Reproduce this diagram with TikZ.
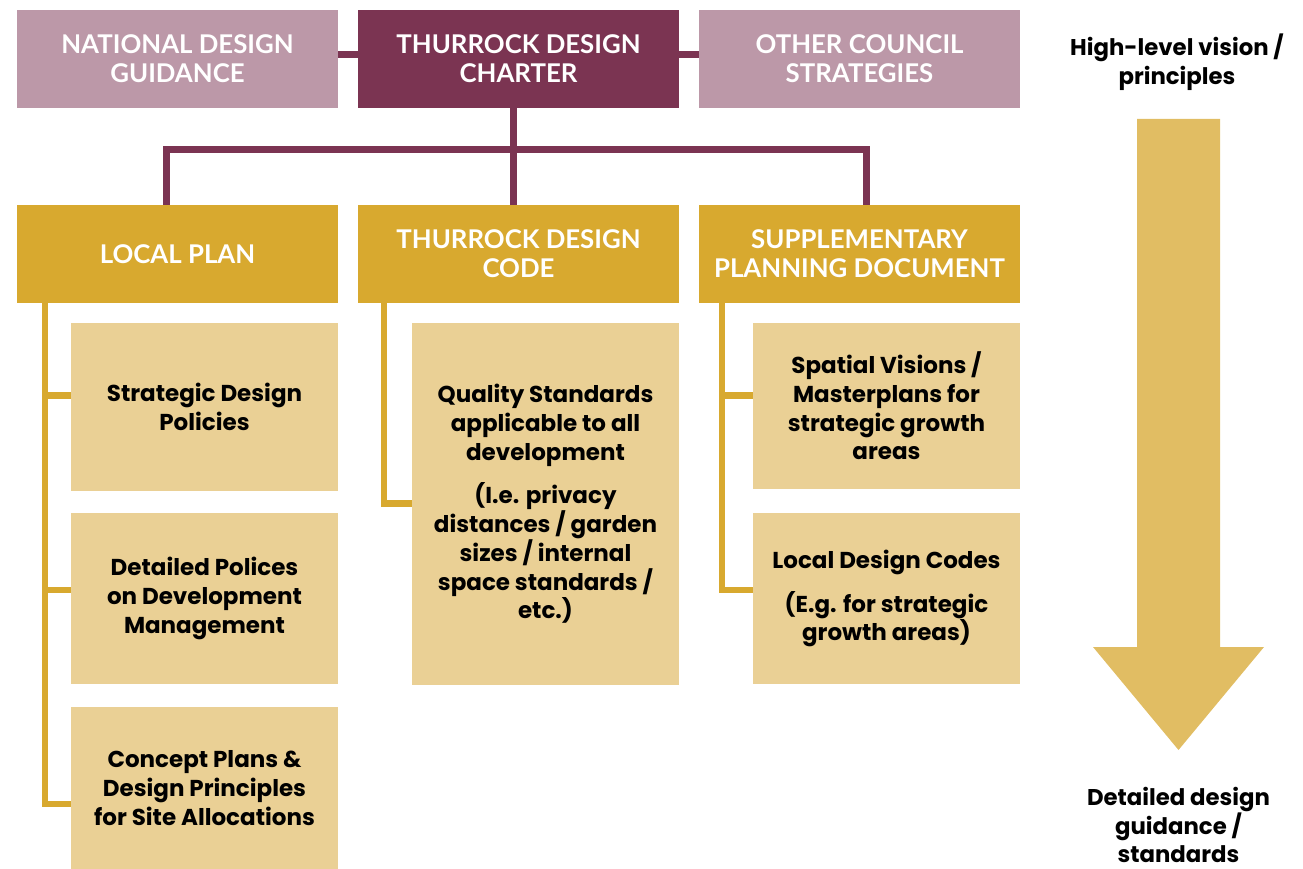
\documentclass[tikz,border=0pt]{standalone}
\usepackage{fontspec}
\setmainfont{Poppins}
\newfontfamily\headfont{Lato}
\definecolor{maroon}{HTML}{7B3452}
\definecolor{mauve}{HTML}{BC98A8}
\definecolor{goldd}{HTML}{D8A92F}
\definecolor{lightg}{HTML}{EAD095}
\definecolor{arrowg}{HTML}{E1BD63}
\begin{document}
\begin{tikzpicture}[x=1pt,y=-1pt,
  base/.style={anchor=north west,inner sep=0pt,outer sep=0pt,minimum width=321pt,align=center},
  headbox/.style={base,minimum height=98pt,text=white,font=\headfont\bfseries\fontsize{25.8}{28.7}\selectfont},
  topbox/.style={headbox,fill=mauve},
  charterbox/.style={headbox,fill=maroon},
  levelbox/.style={headbox,fill=goldd},
  itembox/.style={base,fill=lightg,minimum width=267pt,text=black,font=\bfseries\fontsize{23}{28.7}\selectfont},
  sidetext/.style={align=center,inner sep=0pt,font=\bfseries\fontsize{22.8}{28.8}\selectfont},
  ml/.style={draw=maroon,line width=7pt},
  gl/.style={draw=goldd,line width=6.5pt}]
\useasboundingbox (0,0) rectangle (1303,869);
% top row
\node[topbox] (ndg) at (17,10) {NATIONAL DESIGN\\GUIDANCE};
\node[charterbox] (tdc) at (358,10) {THURROCK DESIGN\\CHARTER};
\node[topbox] (ocs) at (699,10) {OTHER COUNCIL\\STRATEGIES};
% level 2
\node[levelbox] (lp) at (17,205) {LOCAL PLAN};
\node[levelbox] (code) at (358,205) {THURROCK DESIGN\\CODE};
\node[levelbox] (spd) at (699,205) {SUPPLEMENTARY\\PLANNING DOCUMENT};
% level 3
\node[itembox,minimum height=168pt] (sdp) at (71,323) {Strategic Design\\Policies};
\node[itembox,minimum height=171pt] (dpd) at (71,513) {Detailed Polices\\on Development\\Management};
\node[itembox,minimum height=162pt] (cpd) at (71,707) {Concept Plans \&\\Design Principles\\for Site Allocations};
\node[itembox,minimum height=362pt] (qs) at (412,323) {Quality Standards\\applicable to all\\development\\[15pt](I.e. privacy\\distances / garden\\sizes / internal\\space standards /\\etc.)};
\node[itembox,minimum height=166pt] (sv) at (753,323) {Spatial Visions /\\Masterplans for\\strategic growth\\areas};
\node[itembox,minimum height=171pt] (ldc) at (753,513) {Local Design Codes\\[15pt](E.g. for strategic\\growth areas)};
% maroon connectors
\draw[ml] ([yshift=4]ndg.east) -- ([yshift=4]tdc.west);
\draw[ml] ([yshift=4]tdc.east) -- ([yshift=4]ocs.west);
\coordinate (jc) at (513,149.5);
\coordinate (jl) at (166,149.5);
\coordinate (jr) at (866,149.5);
\draw[ml] (jc |- tdc.south) -- (jc |- code.north);
\draw[ml] (jl |- lp.north) -- (jl) -- (jr) -- (jr |- spd.north);
% gold brackets
\coordinate (gx1) at (45,0);
\coordinate (gx2) at (384,0);
\coordinate (gx3) at (722,0);
\draw[gl] (gx1 |- lp.south) |- ([yshift=-97]cpd.north west);
\draw[gl] (gx1 |- sdp.north west) ++(0,72.6) -- ([yshift=-72.6]sdp.north west);
\draw[gl] (gx1 |- dpd.north west) ++(0,77) -- ([yshift=-77]dpd.north west);
\draw[gl] (gx2 |- code.south) |- ([yshift=-180.5]qs.north west);
\draw[gl] (gx3 |- spd.south) |- ([yshift=-77]ldc.north west);
\draw[gl] (gx3 |- sv.north west) ++(0,72.6) -- ([yshift=-72.6]sv.north west);
% right arrow
\node[sidetext] (hl) at (1177,62) {High-level vision /\\principles};
\fill[arrowg] (1137,119) -- (1220,119) -- (1220,647) -- (1264,647) -- (1178.5,750) -- (1093,647) -- (1137,647) -- cycle;
\node[sidetext] (dd) at (1178.5,825) {Detailed design\\guidance /\\standards};
\end{tikzpicture}
\end{document}
